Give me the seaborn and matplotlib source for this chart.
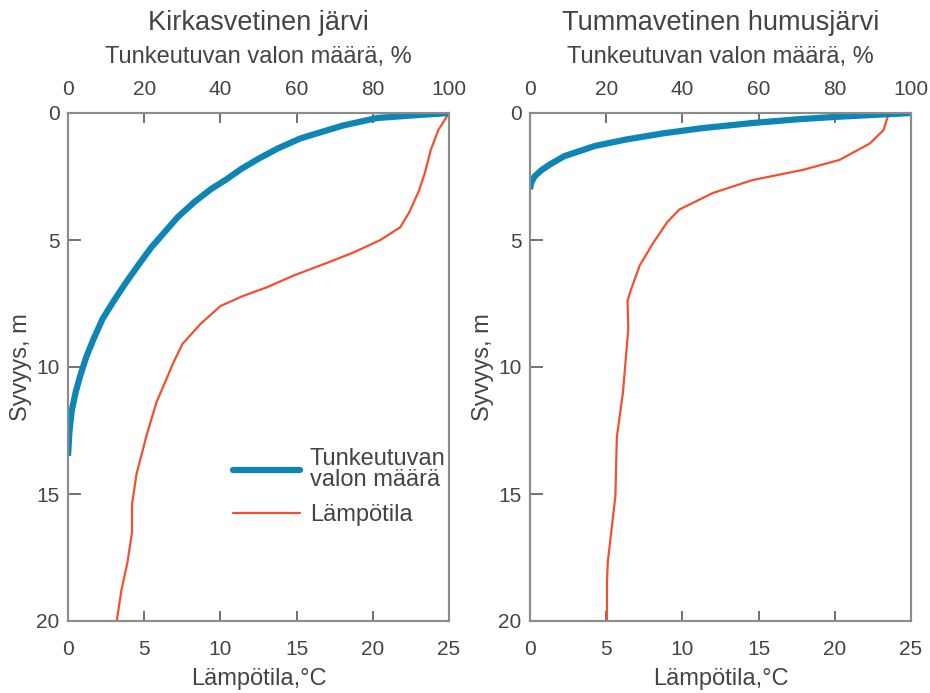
import pandas as pd
import seaborn as sns
import matplotlib.pyplot as plt
from matplotlib.lines import Line2D

# Kirkasvetinen järvi
clear_light_depth = [0, 0.1, 0.2, 0.5, 1.0, 1.4, 1.8, 2.2, 2.6, 3.0, 3.5, 4.1, 4.7, 5.3, 6.0,
                     6.7, 7.4, 8.1, 8.9, 9.6, 10.4, 11.0, 11.7, 12.5, 13.5]
clear_light_pct = [100, 90, 81, 72, 61, 55, 50, 45.5, 41.7, 37.5, 33.2, 28.8, 25.3, 21.8, 18.4,
                   15.1, 12.0, 9.1, 6.7, 4.8, 3.1, 2.0, 1.0, 0.4, 0]
clear_temp_depth = [0, 0.67, 1.46, 2.4, 3.1, 3.9, 4.5, 5.0, 5.5, 5.9, 6.4, 6.85, 7.2, 7.6,
                    8.3, 9.1, 9.85, 11.4, 12.6, 14.2, 15.4, 16.5, 17.7, 18.8, 20]
clear_temp_c = [25, 24.3, 23.8, 23.4, 23.0, 22.4, 21.8, 20.5, 18.7, 17.0, 14.8, 13.1, 11.5, 10.0,
                8.7, 7.5, 6.9, 5.8, 5.2, 4.5, 4.2, 4.2, 3.9, 3.5, 3.2]

# Tummavetinen humusjärvi
humic_light_depth = [0, 0.1, 0.15, 0.25, 0.4, 0.6, 0.8, 1.05, 1.3, 1.7, 2.0, 2.25, 2.5, 2.75, 3.0]
humic_light_pct = [100, 87, 80.5, 70, 58, 45, 35, 25, 17, 9, 5.5, 3, 1.2, 0.3, 0]
humic_temp_depth = [0.08, 0.67, 1.2, 1.85, 2.24, 2.64, 3.15, 3.8, 4.3, 5.1, 6.0, 7.0, 7.4,
                    8.5, 11, 12.75, 15.1, 17.7, 18.5, 20]
humic_temp_c = [23.5, 23.2, 22.3, 20.3, 17.9, 14.6, 12.0, 9.8, 9.0, 8.1, 7.2, 6.6, 6.4,
                6.45, 6.1, 5.7, 5.6, 5.1, 5.05, 5.05]

titles = ["Kirkasvetinen järvi", "Tummavetinen humusjärvi"]
temp_ticks = [0, 5, 10, 15, 20, 25]
light_ticks = [0, 20, 40, 60, 80, 100]
depth_ticks = [0, 5, 10, 15, 20]

BLUE = "#0e86b5"
RED = "#f2502f"
SPINE = "#8c8c8c"
TICK = "#666666"
TXT = "#444444"

sns.set_style("ticks", {"xtick.direction": "in", "ytick.direction": "in"})
plt.rcParams['font.family'] = ['Liberation Sans', 'DejaVu Sans']

fig = plt.figure(figsize=(9.3, 6.93), dpi=100)
W, H = 930, 693
panels = [
    (68, clear_light_depth, clear_light_pct, clear_temp_depth, clear_temp_c),
    (530, humic_light_depth, humic_light_pct, humic_temp_depth, humic_temp_c),
]

for i, (x0, ld, lp, td, tc) in enumerate(panels):
    ax = fig.add_axes([x0 / W, 1 - 621 / H, 381 / W, 508 / H])
    ax2 = ax.twiny()
    temp_df = pd.DataFrame({"temp": tc, "depth": td})
    light_df = pd.DataFrame({"light": lp, "depth": ld})
    sns.lineplot(data=temp_df, x="temp", y="depth", ax=ax, sort=False, estimator=None,
                 color=RED, lw=1.6)
    sns.lineplot(data=light_df, x="light", y="depth", ax=ax2, sort=False, estimator=None,
                 color=BLUE, lw=4.5, solid_capstyle="butt")
    ax.set_xlim(0, 25)
    ax2.set_xlim(0, 100)
    ax.set_ylim(20, 0)
    ax.set_xticks(temp_ticks)
    ax2.set_xticks(light_ticks)
    ax.set_yticks(depth_ticks)
    ax.set_xlabel("Lämpötila,°C", fontsize=17, color=TXT, labelpad=6)
    ax2.set_xlabel("Tunkeutuvan valon määrä, %", fontsize=17, color=TXT, labelpad=12)
    ax.set_ylabel("Syvyys, m", fontsize=17, color=TXT, labelpad=3)
    ax2.set_title(titles[i], fontsize=19.5, color=TXT, pad=12)
    for a in (ax, ax2):
        for s in a.spines.values():
            s.set_color(SPINE)
            s.set_linewidth(1.5)
    ax.tick_params(axis="x", direction="in", length=7, width=1.3, color=TICK,
                   labelsize=15, labelcolor=TXT, pad=14, bottom=True, top=False)
    ax.tick_params(axis="y", direction="in", length=9, width=1.3, color=TICK,
                   labelsize=15, labelcolor=TXT, pad=6, left=True, right=False)
    ax2.tick_params(axis="x", direction="in", length=7, width=1.3, color=TICK,
                    labelsize=15, labelcolor=TXT, pad=10, top=True, bottom=False)
    ax2.tick_params(axis="y", left=False, right=False)

    if i == 0:
        handles = [Line2D([], [], color=BLUE, lw=4.5), Line2D([], [], color=RED, lw=1.6)]
        leg = ax.legend(handles, ["Tunkeutuvan\nvalon määrä", "Lämpötila"],
                        loc="upper left", bbox_to_anchor=((233 - 68) / 381, 0.341),
                        frameon=False, fontsize=17, handlelength=2.84, handletextpad=0.42,
                        borderpad=0, borderaxespad=0, labelspacing=0.55)
        for t in leg.get_texts():
            t.set_color(TXT)
            t.set_linespacing(0.95)

fig.savefig("out.png", dpi=100)
